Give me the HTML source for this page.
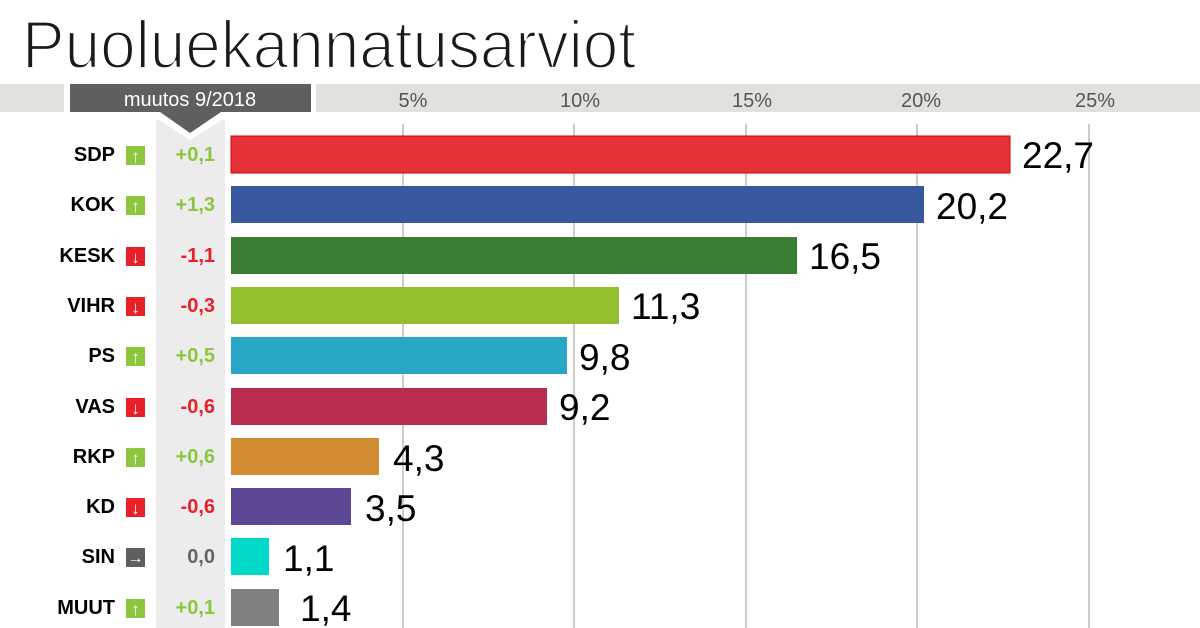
<!DOCTYPE html>
<html><head><meta charset="utf-8"><style>
html,body{margin:0;padding:0;background:#fff;}
svg{display:block;font-family:"Liberation Sans",sans-serif;}
</style></head><body>
<svg width="1200" height="628" viewBox="0 0 1200 628">
<text x="22" y="68" font-size="68" fill="#1a1a1a" stroke="#fff" stroke-width="2.2" paint-order="normal" textLength="614" lengthAdjust="spacingAndGlyphs">Puoluekannatusarviot</text>
<rect x="0" y="84" width="64" height="28" fill="#e2e1dc"/>
<rect x="316" y="84" width="884" height="28" fill="#e2e1dc"/>
<rect x="70" y="84" width="241" height="28" fill="#5f5f5f"/>
<text x="190" y="106" font-size="20" fill="#fff" text-anchor="middle">muutos 9/2018</text>
<polygon points="156,120 225,120 225,628 156,628" fill="#ececec"/>
<polygon points="156,118 225,118 190,140" fill="#fff"/>
<polygon points="160,112 221,112 190,133" fill="#5f5f5f"/>
<g stroke="#bbb" stroke-width="1.5">
<line x1="403" y1="124" x2="403" y2="628"/><line x1="574" y1="124" x2="574" y2="628"/>
<line x1="746" y1="124" x2="746" y2="628"/><line x1="917" y1="124" x2="917" y2="628"/>
<line x1="1089" y1="124" x2="1089" y2="628"/>
</g>
<g font-size="20" fill="#555" text-anchor="middle">
<text x="413" y="107">5%</text><text x="580" y="107">10%</text><text x="752" y="107">15%</text><text x="921" y="107">20%</text><text x="1095" y="107">25%</text>
</g>
<g font-size="20">
<rect x="231" y="136" width="779" height="37" fill="#e53138" stroke="#d00" stroke-width="1"/>
<text x="1022" y="168" font-size="37">22,7</text>
<text x="115" y="161" font-weight="bold" text-anchor="end">SDP</text>
<rect x="126" y="146" width="19" height="19" fill="#8cc63f"/><text x="135.5" y="162" fill="#fff" font-size="17" font-weight="bold" text-anchor="middle">↑</text>
<text x="215" y="161" fill="#8cc63f" font-weight="bold" text-anchor="end">+0,1</text>

<rect x="231" y="186" width="693" height="37" fill="#37589f"/>
<text x="936" y="219" font-size="37">20,2</text>
<text x="115" y="211" font-weight="bold" text-anchor="end">KOK</text>
<rect x="126" y="196" width="19" height="19" fill="#8cc63f"/><text x="135.5" y="212" fill="#fff" font-size="17" font-weight="bold" text-anchor="middle">↑</text>
<text x="215" y="211" fill="#8cc63f" font-weight="bold" text-anchor="end">+1,3</text>

<rect x="231" y="237" width="566" height="37" fill="#3a7d35"/>
<text x="809" y="269" font-size="37">16,5</text>
<text x="115" y="262" font-weight="bold" text-anchor="end">KESK</text>
<rect x="126" y="247" width="19" height="19" fill="#e8202a"/><text x="135.5" y="263" fill="#fff" font-size="17" font-weight="bold" text-anchor="middle">↓</text>
<text x="215" y="262" fill="#e8202a" font-weight="bold" text-anchor="end">-1,1</text>

<rect x="231" y="287" width="388" height="37" fill="#93bf2f"/>
<text x="631" y="319" font-size="37">11,3</text>
<text x="115" y="312" font-weight="bold" text-anchor="end">VIHR</text>
<rect x="126" y="297" width="19" height="19" fill="#e8202a"/><text x="135.5" y="313" fill="#fff" font-size="17" font-weight="bold" text-anchor="middle">↓</text>
<text x="215" y="312" fill="#e8202a" font-weight="bold" text-anchor="end">-0,3</text>

<rect x="231" y="337" width="336" height="37" fill="#29a6c4"/>
<text x="579" y="370" font-size="37">9,8</text>
<text x="115" y="362" font-weight="bold" text-anchor="end">PS</text>
<rect x="126" y="347" width="19" height="19" fill="#8cc63f"/><text x="135.5" y="363" fill="#fff" font-size="17" font-weight="bold" text-anchor="middle">↑</text>
<text x="215" y="362" fill="#8cc63f" font-weight="bold" text-anchor="end">+0,5</text>

<rect x="231" y="388" width="316" height="37" fill="#b82c4e"/>
<text x="559" y="420" font-size="37">9,2</text>
<text x="115" y="413" font-weight="bold" text-anchor="end">VAS</text>
<rect x="126" y="398" width="19" height="19" fill="#e8202a"/><text x="135.5" y="414" fill="#fff" font-size="17" font-weight="bold" text-anchor="middle">↓</text>
<text x="215" y="413" fill="#e8202a" font-weight="bold" text-anchor="end">-0,6</text>

<rect x="231" y="438" width="148" height="37" fill="#d18b31"/>
<text x="393" y="471" font-size="37">4,3</text>
<text x="115" y="463" font-weight="bold" text-anchor="end">RKP</text>
<rect x="126" y="448" width="19" height="19" fill="#8cc63f"/><text x="135.5" y="464" fill="#fff" font-size="17" font-weight="bold" text-anchor="middle">↑</text>
<text x="215" y="463" fill="#8cc63f" font-weight="bold" text-anchor="end">+0,6</text>

<rect x="231" y="488" width="120" height="37" fill="#5b4794"/>
<text x="365" y="521" font-size="37">3,5</text>
<text x="115" y="513" font-weight="bold" text-anchor="end">KD</text>
<rect x="126" y="498" width="19" height="19" fill="#e8202a"/><text x="135.5" y="514" fill="#fff" font-size="17" font-weight="bold" text-anchor="middle">↓</text>
<text x="215" y="513" fill="#e8202a" font-weight="bold" text-anchor="end">-0,6</text>

<rect x="231" y="538" width="38" height="37" fill="#00d8c8"/>
<text x="283" y="571" font-size="37">1,1</text>
<text x="115" y="563" font-weight="bold" text-anchor="end">SIN</text>
<rect x="126" y="548" width="19" height="19" fill="#5f5f5f"/><text x="135.5" y="563" fill="#fff" font-size="16" font-weight="bold" text-anchor="middle">→</text>
<text x="215" y="563" fill="#666" font-weight="bold" text-anchor="end">0,0</text>

<rect x="231" y="589" width="48" height="37" fill="#808080"/>
<text x="300" y="621" font-size="37">1,4</text>
<text x="115" y="614" font-weight="bold" text-anchor="end">MUUT</text>
<rect x="126" y="599" width="19" height="19" fill="#8cc63f"/><text x="135.5" y="615" fill="#fff" font-size="17" font-weight="bold" text-anchor="middle">↑</text>
<text x="215" y="614" fill="#8cc63f" font-weight="bold" text-anchor="end">+0,1</text>
</g>
</svg>
</body></html>
